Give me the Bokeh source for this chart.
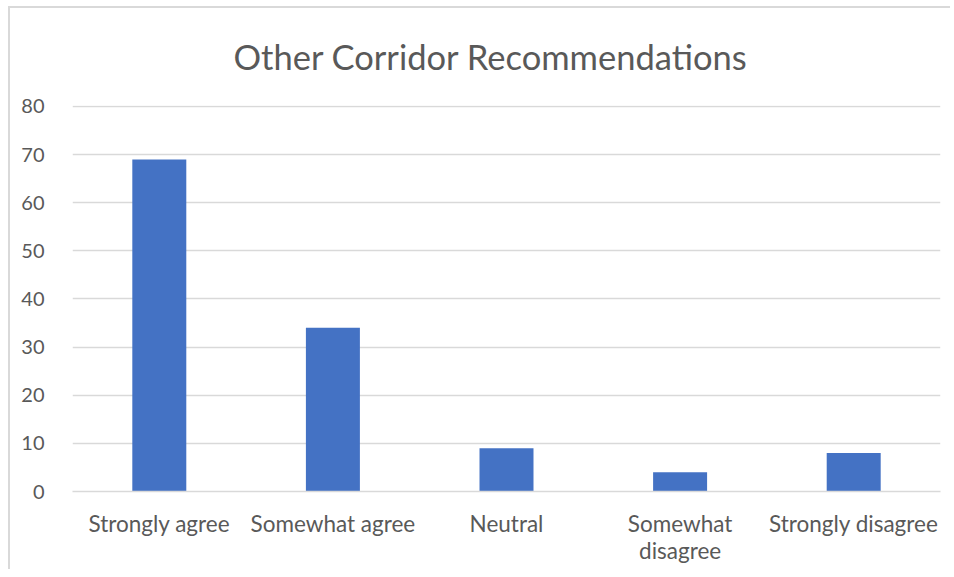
from bokeh.plotting import figure
from bokeh.embed import file_html
from bokeh.resources import INLINE
from bokeh.models import ColumnDataSource, FixedTicker, Range1d, LinearAxis

categories = ["Strongly agree", "Somewhat agree", "Neutral", "Somewhat disagree", "Strongly disagree"]
counts = [69, 34, 9, 4, 8]
y_ticks = [0, 10, 20, 30, 40, 50, 60, 70, 80]
title_text = "Other Corridor Recommendations"

FONT = "Lato"
GREY_TEXT = "#595959"
GRID = "#d9d9d9"
LABEL_SIZE = "22.5px"

positions = list(range(len(categories)))
# first and second text lines of each category label (wrap long ones like Excel does)
line1, line2 = {}, {}
for i, c in enumerate(categories):
    if c == "Somewhat disagree":
        a, b = c.split(" ", 1)
        line1[i], line2[i] = a, b
    else:
        line1[i] = c

src = ColumnDataSource(dict(pos=positions, val=counts, cat=categories))

p = figure(x_range=Range1d(-0.5, len(categories) - 0.5), y_range=Range1d(0, 80.2),
           width=950, height=569, x_axis_location=None,
           output_backend="svg", toolbar_location=None, title=title_text,
           min_border_left=72, min_border_right=10, min_border_top=105, min_border_bottom=78)

p.vbar(x="pos", top="val", width=0.311, source=src, fill_color="#4472c4", line_color=None)

p.title.align = "left"
p.title.offset = 161
p.title.text_font = FONT
p.title.text_font_size = "34.5px"
p.title.text_font_style = "normal"
p.title.text_color = GREY_TEXT
p.title.standoff = 57

p.outline_line_color = None
p.border_fill_color = None
p.background_fill_color = "white"
p.styles = {"background": "linear-gradient(#d9d9d9,#d9d9d9) 8px 6px / 2px 100% no-repeat, "
                          "linear-gradient(#d9d9d9,#d9d9d9) 8px 6px / 100% 2px no-repeat, white"}

p.xgrid.grid_line_color = None
p.ygrid.grid_line_color = GRID
p.ygrid.grid_line_width = 1.5
p.ygrid.ticker = FixedTicker(ticks=y_ticks)

p.yaxis.ticker = FixedTicker(ticks=y_ticks)
p.yaxis.axis_line_color = None
p.yaxis.major_tick_line_color = None
p.yaxis.minor_tick_line_color = None
p.yaxis.major_label_text_font = FONT
p.yaxis.major_label_text_font_size = "20px"
p.yaxis.major_label_text_color = GREY_TEXT
p.yaxis.major_label_standoff = 22

ax1 = LinearAxis(ticker=FixedTicker(ticks=list(line1.keys())), major_label_overrides=line1)
ax2 = LinearAxis(ticker=FixedTicker(ticks=list(line2.keys())), major_label_overrides=line2)
for ax, standoff in ((ax1, 12), (ax2, -9)):
    ax.major_tick_line_color = None
    ax.minor_tick_line_color = None
    ax.major_label_text_font = FONT
    ax.major_label_text_font_size = LABEL_SIZE
    ax.major_label_text_color = GREY_TEXT
    ax.major_label_standoff = standoff
ax1.axis_line_color = GRID
ax1.axis_line_width = 1.5
ax2.axis_line_color = None
p.add_layout(ax1, "below")
p.add_layout(ax2, "below")

open("out.html", "w").write(file_html(p, INLINE))
